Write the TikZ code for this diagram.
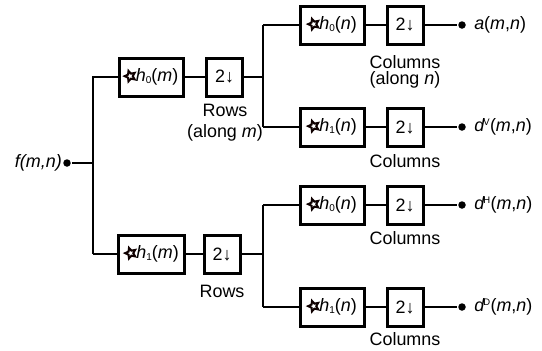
\documentclass[tikz,border=0pt]{standalone}
\usepackage{fontspec}
\usetikzlibrary{shapes.geometric}
\setmainfont{Liberation Sans}
\newcommand{\cstar}{\tikz[baseline=-5.5bp]{\node[star, star points=5, star point ratio=2.1, draw=black!85!red!40!black, line width=2bp, inner sep=0pt, minimum size=11bp, rotate=18] {};}}
\newcommand{\hh}[2]{\cstar\kern0.3pt\textit{h}\raisebox{-2pt}{\fontsize{10}{10}\selectfont #1}(\textit{#2})}
\newcommand{\dsup}[1]{\textit{d}\kern-1.3pt\raisebox{6pt}{\fontsize{9.5}{9.5}\selectfont #1}\kern0.3pt(\textit{m},\textit{n})}
\begin{document}
\begin{tikzpicture}[x=1bp,y=-1bp,line width=2.5bp,
  font=\fontsize{18}{21}\selectfont,
  box/.style={draw, line width=3bp, minimum height=38bp, inner sep=0pt},
  filtbox/.style={box, minimum width=64bp},
  downbox/.style={box, minimum width=36bp},
  dot/.style={circle, fill, inner sep=0pt, minimum size=7.5bp},
  lbl/.style={inner sep=0pt, align=center},
  outl/.style={anchor=west, inner sep=0pt}]
\useasboundingbox (0,0) rectangle (542,350);

% input
\node[dot] (fd) at (67,163) {};
\node[anchor=east, inner sep=0pt] (fl) at (63,163) {\textit{f(m,n)}};
\coordinate (j1) at (93,163);
\coordinate (j1t) at (93,77);
\coordinate (j1b) at (93,254);

% row filters
\node[filtbox] (h0m) at (151,77) {\hh0m};
\node[downbox] (d0m) at (224.5,77) {2↓};
\node[filtbox, minimum width=66bp] (h1m) at (151.5,254) {\hh1m};
\node[downbox] (d1m) at (222,254) {2↓};
\node[lbl] (rows1) at (225,110) {Rows};
\node[lbl] (along1) at (225,133) {(along \textit{m})};
\node[lbl] (rows2) at (222,291) {Rows};

% junctions
\coordinate (j2) at (263,77);
\coordinate (j2t) at (263,25);
\coordinate (j2b) at (263,127);
\coordinate (j3) at (263,254);
\coordinate (j3t) at (263,205);
\coordinate (j3b) at (263,307);

% column filters
\node[filtbox] (ha) at (332,25) {\hh0n};
\node[downbox] (da) at (405,25) {2↓};
\node[dot] (oa) at (462,25) {};
\node[outl] (la) at (473,25) {\textit{a}(\textit{m},\textit{n})};
\node[lbl] (ca) at (405,62) {Columns};
\node[lbl] (ca2) at (405,80) {(along \textit{n})};

\node[filtbox] (hb) at (332,127) {\hh1n};
\node[downbox] (db) at (405,127) {2↓};
\node[dot] (ob) at (462,127) {};
\node[outl] (lb) at (473,127) {\dsup{V}};
\node[lbl] (cb) at (405,161) {Columns};

\node[filtbox] (hc) at (332,205) {\hh0n};
\node[downbox] (dc) at (405,205) {2↓};
\node[dot] (oc) at (462,205) {};
\node[outl] (lc) at (473,205) {\dsup{H}};
\node[lbl] (cc) at (405,238) {Columns};

\node[filtbox] (hd) at (332,307) {\hh1n};
\node[downbox] (dd) at (405,307) {2↓};
\node[dot] (od) at (462,307) {};
\node[outl] (ld) at (473,307) {\dsup{D}};
\node[lbl] (cd) at (405,339) {Columns};

% connectors
\draw (fd) -- (j1);
\draw (j1b) -- (j1t) -- (h0m);
\draw (j1b) -- (h1m);
\draw (h0m) -- (d0m);
\draw (h1m) -- (d1m);
\draw (d0m) -- (j2);
\draw (d1m) -- (j3);
\draw (j2t) -- (j2b);
\draw (j3t) -- (j3b);
\draw (j2t) -- (ha); \draw (ha) -- (da); \draw (da) -- (oa);
\draw (j2b) -- (hb); \draw (hb) -- (db); \draw (db) -- (ob);
\draw (j3t) -- (hc); \draw (hc) -- (dc); \draw (dc) -- (oc);
\draw (j3b) -- (hd); \draw (hd) -- (dd); \draw (dd) -- (od);
\end{tikzpicture}
\end{document}
